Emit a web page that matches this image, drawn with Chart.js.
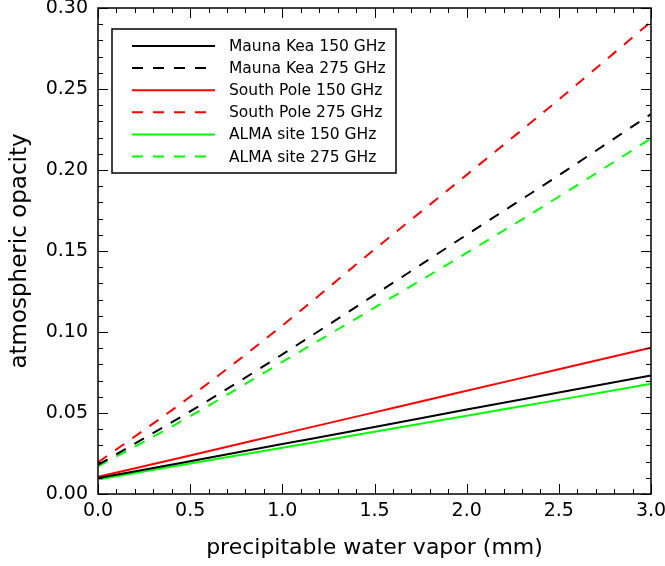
<!DOCTYPE html>
<html>
<head>
<meta charset="utf-8">
<script src="https://cdn.jsdelivr.net/npm/chart.js@4"></script>
<style>
    body { margin: 0; background: #fff; }
    #wrap { width: 665px; height: 566px; }
</style>
</head>
<body>
<div id="wrap"><canvas id="opacityChart" width="665" height="566"></canvas></div>
<script>
// Data (opacity vs pwv)
const pwv = [0.0, 0.5, 1.0, 1.5, 2.0, 2.5, 3.0];
const maunaKea150 = [0.0098, 0.0202, 0.0308, 0.0414, 0.0521, 0.0626, 0.0731];
const maunaKea275 = [0.0180, 0.0510, 0.0862, 0.1229, 0.1600, 0.1968, 0.2345];
const southPole150 = [0.0106, 0.0238, 0.0371, 0.0504, 0.0637, 0.0770, 0.0903];
const southPole275 = [0.0195, 0.0600, 0.1040, 0.1510, 0.1970, 0.2435, 0.2915];
const alma150 = [0.0090, 0.0188, 0.0286, 0.0384, 0.0483, 0.0581, 0.0680];
const alma275 = [0.0170, 0.0480, 0.0815, 0.1150, 0.1488, 0.1835, 0.2195];

const seriesLabels = [
    'Mauna Kea 150 GHz', 'Mauna Kea 275 GHz',
    'South Pole 150 GHz', 'South Pole 275 GHz',
    'ALMA site 150 GHz', 'ALMA site 275 GHz'
];
const seriesValues = [maunaKea150, maunaKea275, southPole150, southPole275, alma150, alma275];
const seriesColors = ['#000000', '#000000', '#ff0000', '#ff0000', '#00ff00', '#00ff00'];
const seriesDashed = [false, true, false, true, false, true];

const xTickLabels = ['0.0', '0.5', '1.0', '1.5', '2.0', '2.5', '3.0'];

const DASH = [11, 10];
const FONT = "'DejaVu Sans', sans-serif";

const datasets = seriesValues.map((vals, i) => ({
    label: seriesLabels[i],
    data: vals.map((v, j) => ({ x: pwv[j], y: v })),
    borderColor: seriesColors[i],
    borderWidth: 2,
    borderDash: seriesDashed[i] ? DASH : [],
    pointRadius: 0,
    fill: false,
    cubicInterpolationMode: 'monotone'
}));

// box round the plot + inward ticks on all four sides
const frameTicks = {
    id: 'frameTicks',
    afterDatasetsDraw(chart) {
        const { ctx, chartArea: a, scales } = chart;
        ctx.save();
        ctx.strokeStyle = '#000';
        ctx.lineWidth = 1.5;
        ctx.strokeRect(a.left, a.top, a.right - a.left, a.bottom - a.top);
        ctx.lineWidth = 1;
        ctx.beginPath();
        for (let i = 0; i <= 30; i++) {
            const len = i % 5 === 0 ? 10 : 5;
            const y = Math.round(scales.y.getPixelForValue(i / 100)) + 0.5;
            ctx.moveTo(a.left, y); ctx.lineTo(a.left + len, y);
            ctx.moveTo(a.right, y); ctx.lineTo(a.right - len, y);
            const x = Math.round(scales.x.getPixelForValue(i / 10)) + 0.5;
            ctx.moveTo(x, a.bottom); ctx.lineTo(x, a.bottom - len);
            ctx.moveTo(x, a.top); ctx.lineTo(x, a.top + len);
        }
        ctx.stroke();
        ctx.restore();
    }
};

// legend drawn inside the plot, framed
const boxLegend = {
    id: 'boxLegend',
    afterDraw(chart) {
        const { ctx, chartArea: a } = chart;
        const left = a.left + 14, top = a.top + 21, w = 284, h = 144;
        ctx.save();
        ctx.fillStyle = '#fff';
        ctx.fillRect(left, top, w, h);
        ctx.strokeStyle = '#000';
        ctx.lineWidth = 1.5;
        ctx.strokeRect(left, top, w, h);
        ctx.font = `15.5px ${FONT}`;
        ctx.textBaseline = 'middle';
        chart.data.datasets.forEach((ds, i) => {
            const y = top + 17 + i * 22.1;
            ctx.strokeStyle = ds.borderColor;
            ctx.lineWidth = 2;
            ctx.setLineDash(ds.borderDash);
            ctx.beginPath();
            ctx.moveTo(left + 20, y);
            ctx.lineTo(left + 103, y);
            ctx.stroke();
            ctx.setLineDash([]);
            ctx.fillStyle = '#000';
            ctx.fillText(ds.label, left + 117, y + 1);
        });
        ctx.restore();
    }
};

new Chart(document.getElementById('opacityChart'), {
    type: 'line',
    data: { datasets },
    options: {
        responsive: false,
        animation: false,
        layout: { padding: { top: 8, right: 14, bottom: 0, left: 0 } },
        plugins: { legend: { display: false }, tooltip: { enabled: false } },
        scales: {
            x: {
                type: 'linear',
                min: 0, max: 3,
                afterFit: (s) => { s.height = 72; s.paddingLeft = 0; s.paddingRight = 0; },
                grid: { display: false, drawTicks: false },
                border: { display: false },
                ticks: {
                    stepSize: 0.5,
                    padding: 6,
                    color: '#000',
                    font: { family: FONT, size: 19 },
                    maxRotation: 0,
                    callback: (v, i) => xTickLabels[i]
                },
                title: {
                    display: true,
                    text: 'precipitable water vapor (mm)',
                    color: '#000',
                    font: { family: FONT, size: 22 },
                    padding: { top: 0, bottom: 5 }
                }
            },
            y: {
                min: 0, max: 0.30,
                afterFit: (s) => { s.width = 98; s.paddingTop = 0; s.paddingBottom = 0; },
                grid: { display: false, drawTicks: false },
                border: { display: false },
                ticks: {
                    stepSize: 0.05,
                    padding: 10,
                    color: '#000',
                    font: { family: FONT, size: 19 },
                    callback: v => v.toFixed(2)
                },
                title: {
                    display: true,
                    text: 'atmospheric opacity',
                    color: '#000',
                    font: { family: FONT, size: 23 },
                    padding: { top: 6, bottom: 0 }
                }
            }
        }
    },
    plugins: [frameTicks, boxLegend]
});
</script>
</body>
</html>
